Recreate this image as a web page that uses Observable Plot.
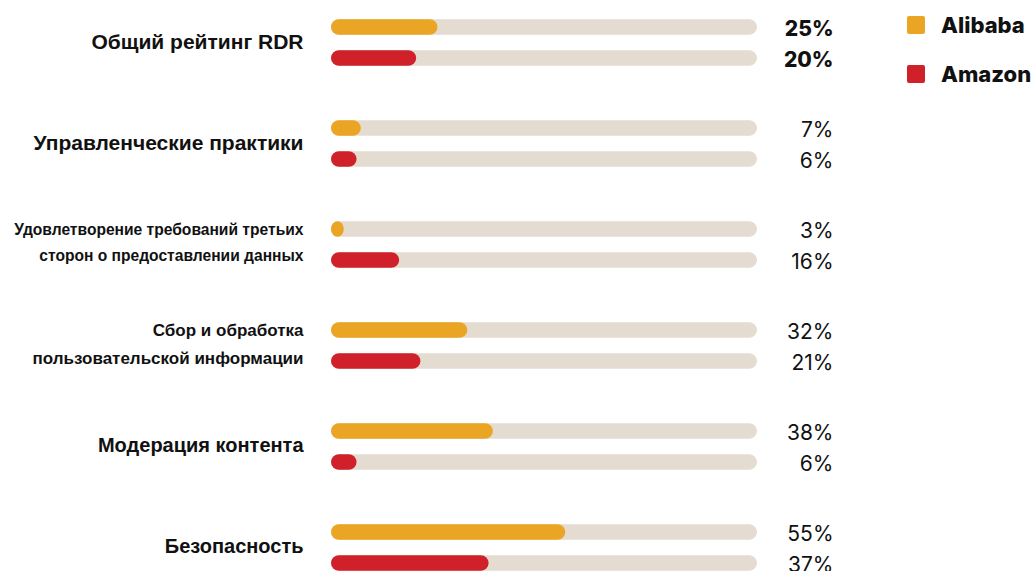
<!DOCTYPE html>
<html><head><meta charset="utf-8">
<script src="https://cdn.jsdelivr.net/npm/d3@7"></script>
<script src="https://cdn.jsdelivr.net/npm/@observablehq/plot@0.6"></script>
<style>
html,body{margin:0;padding:0;background:#fff;overflow:hidden;width:1036px;height:571px}
#wrap{position:relative;width:1036px;height:571px;overflow:hidden}
#chart svg{display:block}
#legend{position:absolute;left:907px;top:16px;font-family:Inter,"DejaVu Sans",sans-serif;font-weight:800;font-size:22px;color:#111}
.item{display:flex;align-items:center;height:18px;margin-bottom:31px;white-space:nowrap}
.sw{width:18px;height:18px;border-radius:2px;margin-right:16px;flex:none}
</style></head><body>
<div id="wrap"><div id="chart"></div><div id="legend"></div></div>
<script>
const categories = [
  "Общий рейтинг RDR",
  "Управленческие практики",
  "Удовлетворение требований третьих\nсторон о предоставлении данных",
  "Сбор и обработка\nпользовательской информации",
  "Модерация контента",
  "Безопасность"
];
const companies = ["Alibaba", "Amazon"];
const alibabaValues = [25, 7, 3, 32, 38, 55];
const amazonValues = [20, 6, 16, 21, 6, 37];
const colors = ["#EBA524", "#D0202A"];

// label font sizes (style, kept separate from data)
const labelSizes = [21, 21, 15.6, 17, 20, 20];

const series = [alibabaValues, amazonValues];
const data = categories.flatMap((c, i) => companies.map((co, j) => ({category: c, company: co, value: series[j][i], first: i === 0})));

const chart = Plot.plot({
  width: 1036,
  height: 580,
  marginLeft: 331, marginRight: 279, marginTop: 9.5, marginBottom: 0.5,
  x: {domain: [0, 100], axis: null},
  y: {domain: companies, axis: null, padding: 0},
  fy: {domain: categories, axis: null, paddingInner: 0.379, paddingOuter: 0},
  color: {domain: companies, range: colors},
  marks: [
    Plot.barX(data, {x1: 0, x2: 100, y: "company", fy: "category", fill: "#E4DCD1", insetTop: 7.75, insetBottom: 7.75, rx: 8}),
    Plot.barX(data, {x1: 0, x2: "value", y: "company", fy: "category", fill: "company", insetTop: 7.75, insetBottom: 7.75, rx: 8}),
    Plot.text(categories, {fy: d => d, text: d => d, frameAnchor: "left", dx: -28, dy: -5, textAnchor: "end",
      fontSize: (d, i) => labelSizes[i], lineHeight: 1.63, fontWeight: 700, fill: "#111",
      fontFamily: "'Liberation Sans',Arial,sans-serif"}),
    Plot.text(data.filter(d => d.first), {fy: "category", y: "company", text: d => d.value + "%", frameAnchor: "right", dx: 76, dy: 1.5, textAnchor: "end",
      fontSize: 21, fontWeight: 800, fill: "#111", fontFamily: "Inter,sans-serif"}),
    Plot.text(data.filter(d => !d.first), {fy: "category", y: "company", text: d => d.value + "%", frameAnchor: "right", dx: 76, dy: 1.5, textAnchor: "end",
      fontSize: 21, fontWeight: 400, fill: "#111", fontFamily: "Inter,sans-serif"})
  ]
});
document.getElementById("chart").appendChild(chart);

const legend = d3.select("#legend");
companies.forEach((c, i) => {
  const it = legend.append("div").attr("class", "item");
  it.append("div").attr("class", "sw").style("background", colors[i]);
  it.append("span").text(c);
});
</script>
</body></html>
